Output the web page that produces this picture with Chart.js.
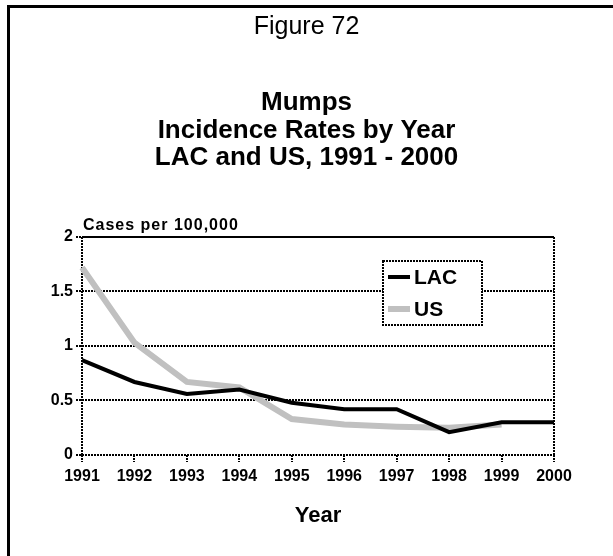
<!DOCTYPE html>
<html><head><meta charset="utf-8">
<script src="https://cdn.jsdelivr.net/npm/chart.js@4/dist/chart.umd.min.js"></script>
<style>
html,body{margin:0;padding:0;background:#fff;overflow:hidden;}
#wrap{position:relative;width:613px;height:556px;overflow:hidden;}
#frame{position:absolute;left:7px;top:5px;width:700px;height:700px;border-left:3px solid #000;border-top:3px solid #000;pointer-events:none;}
</style></head><body>
<div id="wrap"><canvas id="c" width="613" height="556"></canvas><div id="frame"></div></div>
<script>
// ---- data ----
const years = ['1991','1992','1993','1994','1995','1996','1997','1998','1999','2000'];
const lacRates = [0.87, 0.67, 0.56, 0.60, 0.48, 0.42, 0.42, 0.21, 0.30, 0.30];
const usRates  = [1.72, 1.03, 0.67, 0.62, 0.33, 0.28, 0.26, 0.25, 0.28, null];
const seriesNames = ['LAC', 'US'];
const yTickValues = [0, 0.5, 1, 1.5, 2];
const figureLabel = 'Figure 72';
const titleLines = ['Mumps', 'Incidence Rates by Year', 'LAC and US, 1991 - 2000'];
const yAxisLabel = 'Cases per 100,000';
const xAxisLabel = 'Year';

const FONT = '"Liberation Sans", Arial, sans-serif';

const extras = {
  id: 'extras',
  afterDraw(chart) {
    const {ctx, chartArea: a} = chart;
    ctx.save();
    // solid top frame line
    ctx.strokeStyle = '#000'; ctx.lineWidth = 2; ctx.setLineDash([]);
    ctx.beginPath(); ctx.moveTo(a.left, a.top); ctx.lineTo(a.right, a.top); ctx.stroke();
    // y axis caption
    ctx.fillStyle = '#000';
    ctx.font = 'bold 16px ' + FONT;
    if ('letterSpacing' in ctx) ctx.letterSpacing = '1px';
    ctx.textAlign = 'left'; ctx.textBaseline = 'alphabetic';
    ctx.fillText(yAxisLabel, a.left + 1, a.top - 7);
    if ('letterSpacing' in ctx) ctx.letterSpacing = '0px';
    // legend inside plot
    const bx = a.left + 301, by = a.top + 24, bw = 99, bh = 64;
    ctx.fillStyle = '#fff';
    ctx.fillRect(bx, by, bw, bh);
    ctx.strokeStyle = '#000'; ctx.lineWidth = 2; ctx.setLineDash([2, 1]);
    ctx.strokeRect(bx, by, bw, bh);
    ctx.setLineDash([]);
    chart.data.datasets.forEach((ds, i) => {
      const cy = by + 16 + i * 32;
      ctx.strokeStyle = ds.borderColor; ctx.lineWidth = ds.borderWidth; ctx.lineCap = 'butt';
      ctx.beginPath(); ctx.moveTo(bx + 5, cy); ctx.lineTo(bx + 27, cy); ctx.stroke();
      ctx.fillStyle = '#000'; ctx.font = 'bold 21px ' + FONT;
      ctx.textAlign = 'left'; ctx.textBaseline = 'middle';
      ctx.fillText(ds.label, bx + 31, cy + 1);
    });
    ctx.restore();
  }
};

new Chart(document.getElementById('c'), {
  type: 'line',
  data: {
    labels: years,
    datasets: [
      {label: seriesNames[0], data: lacRates, borderColor: '#000000', borderWidth: 4, pointRadius: 0, tension: 0, spanGaps: false},
      {label: seriesNames[1], data: usRates, borderColor: '#c0c0c0', borderWidth: 6, pointRadius: 0, tension: 0, spanGaps: false}
    ]
  },
  options: {
    responsive: false,
    animation: false,
    events: [],
    layout: {padding: {left: 0, right: 0, top: 0, bottom: 0}},
    plugins: {
      legend: {display: false},
      tooltip: {enabled: false},
      title: {display: true, text: figureLabel, color: '#000',
        font: {family: FONT, size: 25, weight: 'normal', lineHeight: 1.2},
        padding: {top: 12, bottom: 47.4}},
      subtitle: {display: true, text: titleLines, color: '#000',
        font: {family: FONT, size: 26, weight: 'bold', lineHeight: 1.06},
        padding: {top: 0, bottom: 64.9}}
    },
    scales: {
      x: {
        offset: false,
        grid: {
          color: (c) => (c.index === 0 || c.index === years.length - 1) ? '#000' : 'rgba(0,0,0,0)',
          lineWidth: 2, drawTicks: true, tickLength: 7, tickColor: '#000', tickWidth: 2,
          tickBorderDash: [2, 1]
        },
        border: {display: false, dash: [2, 1]},
        ticks: {color: '#000', font: {family: FONT, size: 16, weight: 'bold'}, padding: 5, maxRotation: 0, autoSkip: false},
        title: {display: true, text: xAxisLabel, color: '#000', font: {family: FONT, size: 22, weight: 'bold', lineHeight: 1.2}, padding: {top: 0, bottom: 26.8}},
        afterFit: (s) => { s.height = 101; }
      },
      y: {
        min: 0, max: 2,
        afterBuildTicks: (s) => { s.ticks = yTickValues.map(v => ({value: v})); },
        grid: {color: '#000', lineWidth: 2, drawTicks: true, tickLength: 6, tickColor: '#000', tickWidth: 2, tickBorderDash: [2, 1]},
        border: {display: false, dash: [2, 1]},
        ticks: {color: '#000', font: {family: FONT, size: 16, weight: 'bold'}, padding: 3,
          callback: (v) => String(v)},
        afterFit: (s) => { s.width = 82; }
      },
      yRight: {
        type: 'linear', position: 'right', min: 0, max: 2,
        grid: {display: false, drawOnChartArea: false, drawTicks: false},
        border: {display: false},
        ticks: {display: false},
        afterFit: (s) => { s.width = 59; }
      }
    }
  },
  plugins: [extras]
});
</script>
</body></html>
